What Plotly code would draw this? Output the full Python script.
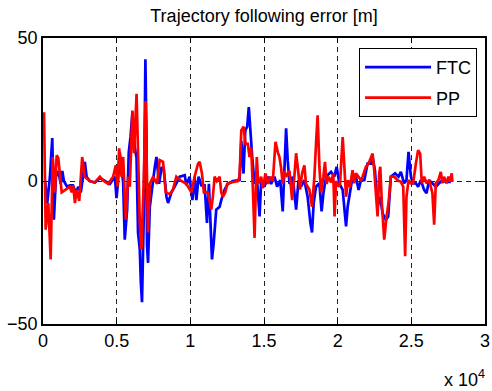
import plotly.graph_objects as go

# FTC series (sample index, error [m])
ftc_x = [140, 290, 470, 630, 740, 880, 1040, 1200, 1310, 1420, 1630, 1830, 2030, 2230, 2400,
         2570, 2710, 2840, 2960, 3180, 3520, 3860, 4200, 4540, 4880, 4990, 5080, 5210, 5440,
         5550, 5710, 5820, 5940, 6070, 6230, 6350, 6450, 6570, 6640, 6720, 6840, 6950, 7020,
         7060, 7130, 7250, 7590, 7700, 7880, 8040, 8190, 8380, 8490, 8720, 8940, 9280, 9620,
         9730, 9950, 10140, 10290, 10410, 10560, 10750, 10970, 11130, 11260, 11380, 11470,
         11580, 11670, 11760, 11990, 12100, 12330, 12550, 12890, 13340, 13460, 13610, 13730,
         13860, 13970, 14070, 14200, 14360, 14510, 14700, 14810, 15030, 15260, 15480, 15710,
         15890, 16100, 16270, 16390, 16500, 16610, 16730, 16950, 17060, 17180, 17340, 17510,
         17740, 17960, 18150, 18260, 18370, 18530, 18760, 18910, 19030, 19210, 19550, 19770,
         19930, 20110, 20340, 20450, 20570, 20680, 20840, 21010, 21240, 21420, 21580, 21810,
         22030, 22260, 22370, 22530, 22710, 22870, 23050, 23270, 23430, 23610, 23900, 24130,
         24290, 24510, 24670, 24810, 24970, 25120, 25310, 25460, 25640, 25870, 26030, 26210,
         26430, 26660, 26880, 27110, 27340, 27680]
ftc_y = [0, -7.7, 1.5, 15, -13.5, 1.5, 3.5, -1, 3.5, 0, -2, -1.5, -1.5, -4, -2,
         -4, 1.5, 6.7, 1.5, 0, -0.5, 1, 0, -1, 1.5, -6, -1, 10, -0.5,
         -20.5, -10, 10, 15.4, 24, 11.7, 8, -18, -24, -35.4, -42.4, -12, 42.6, 17,
         -22.6, -28.6, -9, 5, 8.4, -1, 4.6, 4.6, -5.5, -7.7, -4, -2, 1.5, 2,
         -1.5, 1.5, -6.7, 1.5, -6.7, 1.5, -1.5, -1.5, -14.7, -1, -20.5, -27.4,
         -22, -14.7, -10, -9, -6.7, -3, -1, 0, 0.3, 14, 2.6, 17.7,
         19, 25.8, 17.7, 8.4, -1, 1.5, -12.4, 0.3, -2, 1.5, -1, 1.5,
         -2, 0.3, -10.6, 8.4, 18.4, 7.2, -1, 1.5, -5.5, -10, 0.3, -2,
         0.3, -5.5, -14.7, -18, -7.8, -2, -0.8, -10.6, -4.3, 1.5, 3.2, 1.5,
         5, -0.8, -3.1, -8.9, -15.9, -8.9, -4.3, 1.5, 1.5, -3.1, 0.3, 0.3,
         6.1, 6.1, 8.4, 3.8, -8.9, -5.5, -11.3, -13.6, -12.4, 1.5, 2.7, 1.5,
         3.2, -0.8, 0.3, 10.2, 1.5, -0.8, -0.8, -2, 0.3, -3.1, -4.3, 0.3,
         -0.8, -2, -0.8, 0.3, -0.3, -0.3]

# PP series (sample index, error [m])
pp_x = [70, 180, 360, 520, 660, 810, 930, 1040, 1270, 1600, 1830, 1940, 2050, 2170, 2280,
        2460, 2660, 2840, 3180, 3520, 3860, 4130, 4420, 4760, 4940, 5060, 5170, 5330, 5440,
        5620, 5780, 5890, 6070, 6180, 6350, 6500, 6570, 6680, 6840, 6960, 7020, 7130, 7250,
        7470, 7740, 7920, 8150, 8330, 8600, 8820, 9050, 9390, 9730, 10070, 10290, 10520,
        10630, 10790, 10920, 11190, 11420, 11530, 11650, 11800, 11990, 12100, 12210, 12370,
        12510, 12780, 13230, 13340, 13460, 13610, 13750, 13900, 14020, 14130, 14240, 14360,
        14420, 14510, 14610, 14810, 14920, 15100, 15260, 15420, 15600, 15780, 15940, 16050,
        16160, 16270, 16390, 16500, 16730, 16910, 17060, 17180, 17320, 17450, 17580, 17740,
        17850, 18080, 18260, 18420, 18540, 18640, 18760, 18870, 19030, 19140, 19250, 19390,
        19550, 19700, 19790, 19890, 20070, 20160, 20340, 20450, 20570, 20700, 20840, 21010,
        21130, 21240, 21420, 21580, 21690, 21920, 22100, 22260, 22370, 22480, 22600, 22710,
        22820, 22890, 23000, 23160, 23320, 23450, 23610, 23840, 24060, 24290, 24450, 24580,
        24670, 24810, 24970, 25120, 25310, 25460, 25600, 25710, 25870, 26030, 26210, 26430,
        26550, 26660, 26840, 27000, 27110, 27220, 27380, 27520, 27630, 27740, 27790]
pp_y = [24, -17, -7.7, -27.4, 8.4, -4, 9, 8, -4, -3, -2, -4, -1.5, -7.7, -3,
        -7, 8.4, 1.5, 0, -0.5, 1.5, 0, -1, 1.5, 5.5, -2, 11.4, 1.5, 8.4,
        -13.5, 1.5, -2, 24.6, 9.7, 30.5, 0, -14.6, -24, 0, 28, 5, -18, -1,
        1.5, -1, 7.3, 6.7, -4, -4.6, -3, 1.5, 0, -1, -4, 1.5, 6,
        6.7, 2.6, -4, -4, -10, -5.5, 1.5, 0, 1.5, -4, -5.5, -4,
        -1, -0.5, 0, 1.5, 17.7, 19, 13, 13, 8.4, 11.7, -2, -19.9,
        -7.7, 8.4, -1, 1.5, -2.5, 2.6, -1, 1.5, 0, 13.7, 10, 8.4,
        4.6, -1, 3.5, 1.5, 3.5, -6.7, 1.5, 9.7, 3.5, -3, 2.6, 5.5,
        -1, -3, -9, 1.5, 14, 23, 5, -4, 1.5, 6.7, -1, 1.5,
        -0.5, 2.6, -12.4, 0, -2, -1, 15.4, 6.1, -5.5, 0.3, -2, 3.8,
        -0.8, 2.7, 1.5, 0.3, 1.5, 5, 6.1, 8.4, 9.6, 3.8, -5.5, -12.4,
        2.7, 5, -7.8, -20.5, -12.4, -7.8, 1.5, 1.5, 0.3, -0.3, -2, -26.3,
        -5.5, 0.3, -0.8, -0.8, 6.1, 10.8, 9.6, -0.8, 1.5, -0.8, 0.3, -4.3,
        -15.3, -0.8, 0.3, 3.2, -0.8, 1.5, -0.8, 1.5, -0.3, 2.7, -0.3]

x_tickvals = [0, 5000, 10000, 15000, 20000, 25000, 30000]
x_ticktext = ["0", "0.5", "1", "1.5", "2", "2.5", "3"]
y_tickvals = [-50, 0, 50]

FONT = "Liberation Sans, Arial, sans-serif"

fig = go.Figure()
fig.add_trace(go.Scatter(x=ftc_x, y=ftc_y, mode="lines", name="FTC", legendgroup="a",
                         line=dict(color="#0000ff", width=2.7)))
fig.add_trace(go.Scatter(x=pp_x, y=pp_y, mode="lines", name="PP", legendgroup="b",
                         line=dict(color="#ff0000", width=2.7)))

axis_common = dict(
    showline=True, linecolor="black", linewidth=1.5, mirror="ticks",
    ticks="inside", ticklen=5, tickwidth=1, tickcolor="black",
    showgrid=True, gridcolor="#222222", gridwidth=1, griddash="5px,4px",
    zeroline=False, automargin=False,
    tickfont=dict(family=FONT, size=18, color="black"),
)

fig.update_xaxes(range=[0, 30000], tickvals=x_tickvals, ticktext=x_ticktext, **axis_common)
fig.update_yaxes(range=[-50, 50], tickvals=y_tickvals, **axis_common)

fig.update_layout(
    width=492, height=391,
    margin=dict(l=43, r=7, t=38, b=67),
    paper_bgcolor="white", plot_bgcolor="white",
    font=dict(family=FONT, size=18, color="black"),
    title=dict(text="Trajectory following error [m]", x=(264 / 492), xanchor="center",
               y=1 - 16 / 391, yanchor="middle", font=dict(size=18, family=FONT, color="black")),
    showlegend=True,
    legend=dict(x=0.982, xanchor="right", y=0.965, yanchor="top",
                bgcolor="white", bordercolor="black", borderwidth=1,
                font=dict(family=FONT, size=18, color="black"),
                itemwidth=66, tracegroupgap=4),
    annotations=[dict(text="x 10<sup>4</sup>", xref="paper", yref="paper",
                      x=1.005, xanchor="right", y=-0.189, yanchor="middle",
                      showarrow=False, font=dict(family=FONT, size=18, color="black"))],
)

# remove the default page margin so the figure sits at the window's top-left corner
fig.write_html("out.html",
               config={"displayModeBar": False},
               post_script="document.body.style.margin='0';document.body.style.overflow='hidden';")
